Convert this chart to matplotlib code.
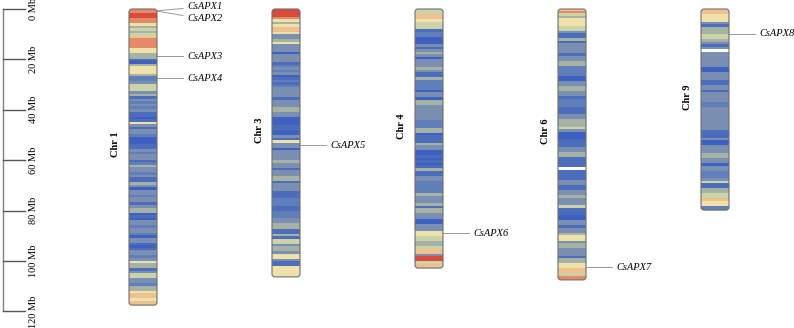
import numpy as np
import matplotlib.pyplot as plt
from matplotlib.colors import ListedColormap
from matplotlib.patches import FancyBboxPatch

plt.rcParams['font.family'] = ['Liberation Serif', 'DejaVu Serif']

# chromosome names and lengths (Mb)
chr_names = ['Chr 1', 'Chr 3', 'Chr 4', 'Chr 6', 'Chr 9']
chr_lengths = [117.5, 106.3, 102.8, 107.5, 79.8]

# gene density level per 1 Mb bin (0 = low ... 9 = high, nan = no data)
nan = np.nan
density_chr1 = [8, 8, 9, 9, 8, 8, 6, 4, 5, 4, 5, 7, 8, 8, 8, 8, 6, 6, 4, 4,
                1, 0, 4, 6, 6, 6, 4, 2, 2, 3, 5, 5, 5, 3, 4, 1, 3, 2, 3, 2,
                3, 1, 1, 0, 1, 6, 3, 1, 3, 3, 2, 0, 0, 0, 1, 1, 3, 2, 3, 3,
                1, 2, 4, 3, 3, 2, 3, 1, 1, 4, 3, 0, 3, 3, 2, 3, 3, 1, 3, 4,
                4, 0, 1, 0, 3, 3, 2, 3, 3, 2, 0, 3, 3, 1, 0, 1, 3, 3, 2, 3,
                6, 4, 4, 1, 3, 5, 5, 3, 3, 2, 4, 4, 6, 7, 7, 6, 7, 7]
density_chr3 = [9, 9, 9, 8, 6, 4, 6, 7, 7, 6, 3, 3, 4, 6, 3, 3, 3, 0, 3, 3,
                3, 1, 2, 3, 2, 3, 0, 1, 2, 1, 2, 3, 3, 3, 3, 1, 3, 3, 3, 4,
                4, 3, 3, 0, 0, 0, 1, 1, 0, 0, 3, 1, 6, 3, 3, 0, 3, 3, 3, 3,
                4, 3, 3, 1, 3, 3, 4, 4, 1, 3, 3, 3, 1, 1, 1, 2, 2, 2, 1, 1,
                2, 2, 2, 3, 3, 4, 4, 1, 1, 4, 1, 5, 5, 3, 4, 4, 3, 6, 6, 3,
                1, 1, 6, 6, 6, 6, 6]
density_chr4 = [5, 5, 7, 7, 6, 5, 5, 5, 1, 2, 2, 0, 0, 0, 3, 1, 3, 4, 3, 0,
                3, 3, 3, 4, 3, 1, 1, 4, 2, 2, 2, 2, 0, 3, 3, 0, 4, 4, 3, 3,
                3, 3, 3, 3, 2, 2, 2, 4, 4, 0, 1, 1, 1, 4, 3, 3, 0, 0, 1, 0,
                1, 0, 1, 4, 1, 1, 3, 3, 2, 2, 2, 2, 2, 4, 3, 3, 3, 4, 1, 4,
                4, 3, 3, 0, 0, 3, 3, 3, 6, 6, 5, 5, 4, 4, 5, 7, 7, 3, 9, 9,
                5, 7, 7]
density_chr6 = [7, 8, 5, 4, 6, 6, 6, 5, 5, 3, 1, 1, 4, 1, 3, 3, 3, 3, 1, 3,
                3, 4, 4, 2, 2, 2, 2, 0, 0, 3, 3, 4, 4, 3, 3, 1, 2, 2, 2, 1,
                1, 1, 3, 3, 4, 4, 4, 5, 3, 0, 0, 0, 1, 1, 1, 3, 3, 4, 4, 1,
                1, 1, 1, nan, 1, 1, 1, 1, 3, 3, 1, 1, 3, 3, 4, 3, 3, 3, 5, 1,
                1, 1, 0, 0, 3, 3, 1, 3, 3, 4, 6, 6, 3, 4, 4, 3, 3, 3, 1, 4,
                4, 6, 6, 7, 7, 5, 8, 8]
density_chr9 = [7, 7, 6, 6, 6, 3, 1, 4, 4, 4, 5, 5, 4, 3, 1, 3, nan, 3, 3, 3,
                3, 3, 3, 0, 0, 3, 3, 3, 1, 1, 3, 3, 1, 3, 3, 3, 3, 2, 2, 3,
                3, 3, 3, 3, 3, 3, 3, 3, 1, 1, 1, 3, 0, 0, 3, 3, 3, 4, 4, 3,
                3, 0, 3, 3, 2, 2, 2, 3, 5, 1, 1, 4, 4, 5, 5, 7, 6, 6, 2, 2]
densities = [density_chr1, density_chr3, density_chr4, density_chr6, density_chr9]

# genes
gene_names = ['CsAPX1', 'CsAPX2', 'CsAPX3', 'CsAPX4', 'CsAPX5', 'CsAPX6', 'CsAPX7', 'CsAPX8']
gene_chr = ['Chr 1', 'Chr 1', 'Chr 1', 'Chr 1', 'Chr 3', 'Chr 4', 'Chr 6', 'Chr 9']
gene_pos = [0.7, 0.8, 18.7, 27.4, 54.0, 88.9, 102.4, 9.9]

scale_ticks = [0, 20, 40, 60, 80, 100, 120]

cmap = ListedColormap(['#3d60c2', '#4c6dbc', '#607eba', '#7a8fb2', '#a6b2a4',
                       '#cdd3a8', '#eee2aa', '#efc18e', '#e58a68', '#d84a3a'])
cmap.set_bad('white')

px_per_mb = 2.52
top_px = 9
ylim = ((328 - top_px) / px_per_mb, -top_px / px_per_mb)

fig = plt.figure(figsize=(7.94, 3.28), dpi=100)
ax = fig.add_axes([0, 0, 1, 1])
ax.axis('off')

# scale bar
ax.plot([3, 3], [scale_ticks[0], scale_ticks[-1]], color='#808080', lw=1)
for t in scale_ticks:
    ax.plot([3, 25], [t, t], color='#555555', lw=1)
    ax.text(33, t, f'{t} Mb', rotation=90, ha='center', va='center', fontsize=7.5)

# chromosomes
x_left = 129
spacing = 143
width = 28
chr_x = {}
for i, (name, length, dens) in enumerate(zip(chr_names, chr_lengths, densities)):
    x0 = x_left + i * spacing
    chr_x[name] = x0
    vals = np.ma.masked_invalid(np.array(dens, dtype=float))
    shape = FancyBboxPatch((x0, 0), width, length,
                           boxstyle='round,pad=0,rounding_size=3',
                           mutation_aspect=1 / px_per_mb,
                           facecolor='none', edgecolor='#6e6e6e', lw=0.8, zorder=3)
    ax.add_patch(shape)
    im = ax.imshow(vals[:, None], cmap=cmap, vmin=-0.5, vmax=9.5, aspect='auto',
                   interpolation='nearest', extent=[x0, x0 + width, len(dens), 0],
                   zorder=2)
    im.set_clip_path(shape)
    ax.text(x0 - 13, length / 2, name, rotation=90, ha='center', va='bottom',
            fontsize=7.5, fontweight='bold')

# gene labels (first two labels are spread apart)
label_shift = {'CsAPX1': -1.5, 'CsAPX2': 2.8}
line_shift = {'CsAPX1': -0.9, 'CsAPX2': 1.8}
for g, c, p in zip(gene_names, gene_chr, gene_pos):
    xr = chr_x[c] + width
    ax.plot([xr, xr + 26], [p, p + line_shift.get(g, 0)], color='#9a9a9a', lw=0.7)
    ax.text(xr + 30, p + label_shift.get(g, 0), g, style='italic',
            ha='left', va='center', fontsize=7.5)

ax.set_xlim(0, 794)
ax.set_ylim(*ylim)

fig.savefig('out.png', dpi=100)
